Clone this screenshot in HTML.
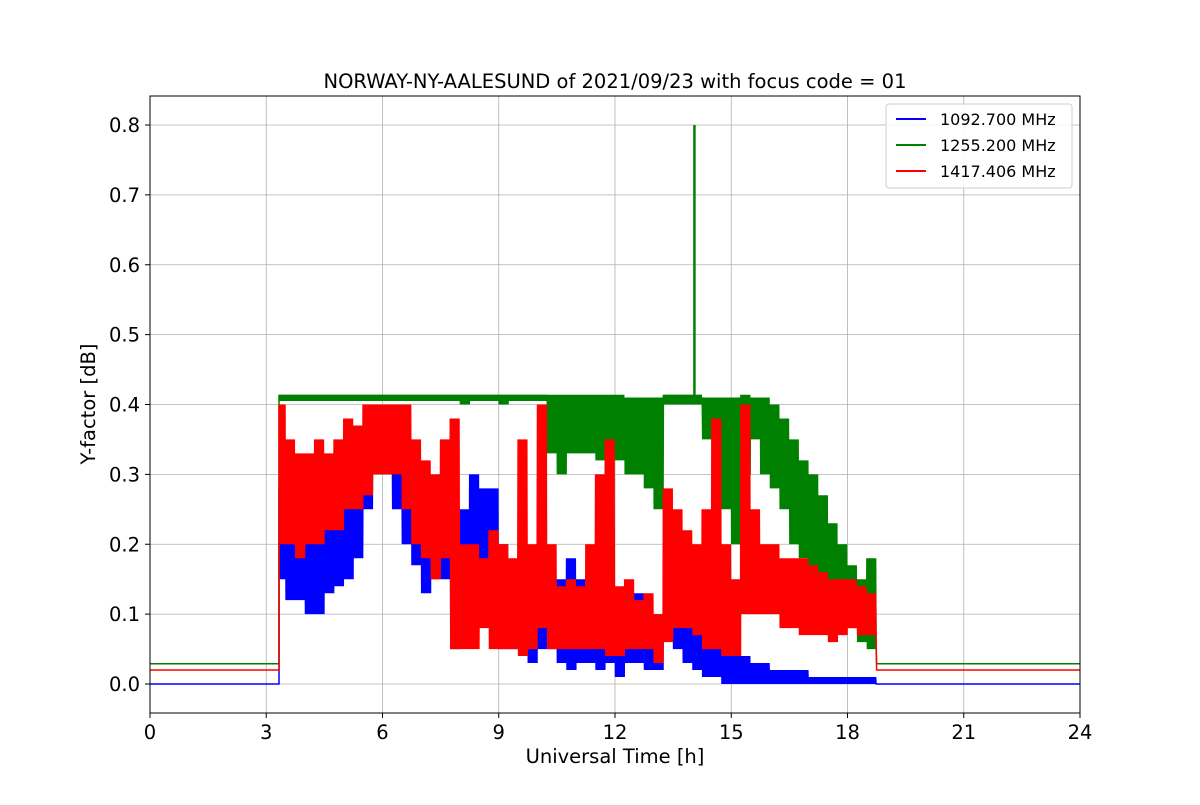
<!DOCTYPE html>
<html><head><meta charset="utf-8"><style>
body{margin:0;background:#fff;}
svg text{font-family:"DejaVu Sans","Liberation Sans",sans-serif;}
</style></head><body>
<svg id="chart" width="1200" height="800" xmlns="http://www.w3.org/2000/svg">
<rect width="1200" height="800" fill="#fff"/>
<g id="grid"></g>
<g id="series"></g>
<rect x="150" y="96" width="930" height="617" fill="none" stroke="#000" stroke-width="1"/>
<g id="ticks"></g>
<text x="615" y="88" font-size="19.5" text-anchor="middle">NORWAY-NY-AALESUND of 2021/09/23 with focus code = 01</text>
<text x="615" y="763" font-size="19.5" text-anchor="middle">Universal Time [h]</text>
<text transform="translate(95,404) rotate(-90)" font-size="19.5" text-anchor="middle">Y-factor [dB]</text>
<g>
<rect x="886" y="104" width="186" height="84" rx="3" fill="#fff" fill-opacity="0.85" stroke="#ccc"/>
<line x1="896" y1="119" x2="926" y2="119" stroke="#0000ff" stroke-width="2"/>
<text x="940" y="125" font-size="16">1092.700 MHz</text>
<line x1="896" y1="145" x2="926" y2="145" stroke="#008000" stroke-width="2"/>
<text x="940" y="151" font-size="16">1255.200 MHz</text>
<line x1="896" y1="171" x2="926" y2="171" stroke="#ff0000" stroke-width="2"/>
<text x="940" y="177" font-size="16">1417.406 MHz</text>
</g>
</svg>
<script>
const xTicks=[0,3,6,9,12,15,18,21,24];
const yTicks=[0.0,0.1,0.2,0.3,0.4,0.5,0.6,0.7,0.8];
const binStart=3.25, binWidth=0.25, activeEnd=18.75;
const redLo=[0.2,0.2,0.18,0.2,0.2,0.22,0.22,0.25,0.25,0.27,0.3,0.3,0.3,0.25,0.2,0.18,0.15,0.18,0.05,0.05,0.05,0.08,0.05,0.05,0.05,0.04,0.05,0.08,0.05,0.05,0.05,0.05,0.05,0.05,0.04,0.04,0.05,0.05,0.05,0.03,0.06,0.08,0.08,0.07,0.05,0.05,0.04,0.04,0.1,0.1,0.1,0.1,0.08,0.08,0.07,0.07,0.07,0.06,0.07,0.08,0.07,0.07];
const redHi=[0.4,0.35,0.33,0.33,0.35,0.33,0.35,0.38,0.37,0.4,0.4,0.4,0.4,0.4,0.35,0.32,0.3,0.35,0.38,0.2,0.2,0.18,0.22,0.2,0.18,0.35,0.2,0.4,0.2,0.14,0.15,0.14,0.2,0.3,0.35,0.14,0.15,0.12,0.13,0.1,0.28,0.25,0.22,0.2,0.25,0.38,0.2,0.15,0.4,0.25,0.2,0.2,0.18,0.18,0.18,0.17,0.16,0.15,0.15,0.15,0.14,0.13];
const blueLo=[0.15,0.12,0.12,0.1,0.1,0.13,0.14,0.15,0.18,0.25,0.3,0.3,0.25,0.2,0.17,0.13,0.15,0.15,0.05,0.1,0.1,0.1,0.08,0.05,0.05,0.05,0.03,0.05,0.05,0.03,0.02,0.03,0.03,0.02,0.03,0.01,0.03,0.03,0.02,0.02,0.1,0.05,0.03,0.02,0.01,0.01,0,0,0,0,0,0,0,0,0,0,0,0,0,0,0,0];
const blueHi=[0.28,0.25,0.24,0.22,0.23,0.25,0.27,0.28,0.3,0.33,0.36,0.38,0.35,0.3,0.28,0.26,0.28,0.3,0.25,0.25,0.3,0.28,0.28,0.2,0.17,0.13,0.12,0.2,0.15,0.15,0.18,0.15,0.13,0.12,0.12,0.12,0.12,0.13,0.1,0.09,0.15,0.14,0.12,0.1,0.08,0.07,0.05,0.05,0.04,0.03,0.03,0.02,0.02,0.02,0.02,0.01,0.01,0.01,0.01,0.01,0.01,0.01];
const greenLo=[0.405,0.405,0.405,0.405,0.405,0.405,0.405,0.405,0.405,0.405,0.405,0.405,0.405,0.405,0.405,0.405,0.405,0.405,0.405,0.4,0.405,0.405,0.405,0.4,0.405,0.405,0.405,0.405,0.33,0.3,0.33,0.33,0.33,0.32,0.32,0.32,0.3,0.3,0.28,0.25,0.4,0.4,0.4,0.4,0.35,0.3,0.25,0.2,0.3,0.35,0.3,0.28,0.25,0.2,0.18,0.15,0.12,0.1,0.08,0.08,0.06,0.05];
const greenHi=[0.414,0.414,0.414,0.414,0.414,0.414,0.414,0.414,0.414,0.414,0.414,0.414,0.414,0.414,0.414,0.414,0.414,0.414,0.414,0.414,0.414,0.414,0.414,0.414,0.414,0.414,0.414,0.414,0.414,0.414,0.414,0.414,0.414,0.414,0.414,0.414,0.41,0.41,0.41,0.41,0.414,0.414,0.414,0.414,0.41,0.41,0.41,0.41,0.414,0.41,0.41,0.4,0.38,0.35,0.32,0.3,0.27,0.23,0.2,0.17,0.15,0.18];
const greenSpikeT=[14.05];
const greenSpikeV=[0.8];
const baseBefore=[0.0,0.029,0.02];
const baseAfter=[0.0,0.029,0.02];
const colors=["#0000ff","#008000","#ff0000"];
const names=["series-1092","series-1255","series-1417"];
const X0=150,X1=1080,Y0=684,PXU=698.75;
function xs(t){return X0+(t-0)*(X1-X0)/24;}
function ys(v){return Y0-v*PXU;}
const NS="http://www.w3.org/2000/svg";
const grid=document.getElementById('grid'),ticks=document.getElementById('ticks'),ser=document.getElementById('series');
xTicks.forEach(t=>{
 const l=document.createElementNS(NS,'line');
 
 
 l.setAttribute('x1',xs(t));l.setAttribute('x2',xs(t));l.setAttribute('y1',96);l.setAttribute('y2',713);
 l.setAttribute('stroke','#b0b0b0');l.setAttribute('stroke-width','0.8');grid.appendChild(l);
 const k=document.createElementNS(NS,'line');
 
 
 k.setAttribute('x1',xs(t));k.setAttribute('x2',xs(t));k.setAttribute('y1',713);k.setAttribute('y2',718);
 k.setAttribute('stroke','#000');ticks.appendChild(k);
 const tx=document.createElementNS(NS,'text');
 
 
 tx.setAttribute('x',xs(t));tx.setAttribute('y',739);tx.setAttribute('font-size','19.5');tx.setAttribute('text-anchor','middle');
 tx.textContent=t;ticks.appendChild(tx);
});
yTicks.forEach(v=>{
 const l=document.createElementNS(NS,'line');
 
 
 l.setAttribute('x1',150);l.setAttribute('x2',1080);l.setAttribute('y1',ys(v));l.setAttribute('y2',ys(v));
 l.setAttribute('stroke','#b0b0b0');l.setAttribute('stroke-width','0.8');grid.appendChild(l);
 const k=document.createElementNS(NS,'line');
 
 
 k.setAttribute('x1',145);k.setAttribute('x2',150);k.setAttribute('y1',ys(v));k.setAttribute('y2',ys(v));
 k.setAttribute('stroke','#000');ticks.appendChild(k);
 const tx=document.createElementNS(NS,'text');
 
 
 tx.setAttribute('x',140);tx.setAttribute('y',ys(v)+7);tx.setAttribute('font-size','19.5');tx.setAttribute('text-anchor','end');
 tx.textContent=v.toFixed(1);ticks.appendChild(tx);
});
const los=[blueLo,greenLo,redLo],his=[blueHi,greenHi,redHi];
const tStart=3.33;
for(let s=0;s<3;s++){
 let pts=[[xs(0),ys(baseBefore[s])],[xs(tStart),ys(baseBefore[s])]];
 const lo=los[s],hi=his[s];
 const sub=20;
 for(let i=0;i<lo.length;i++){
  const b0=Math.max(binStart+i*binWidth,tStart);
  const b1=Math.min(binStart+(i+1)*binWidth,activeEnd);
  for(let k=0;k<sub;k++){
   const t=b0+(b1-b0)*k/sub;
   const v=(k%2===0)?hi[i]:lo[i];
   pts.push([xs(t),ys(v)]);
  }
 }
 pts.push([xs(activeEnd),ys(baseAfter[s])]);
 pts.push([xs(24),ys(baseAfter[s])]);
 const p=document.createElementNS(NS,'polyline');
 
 
 p.setAttribute('points',pts.map(q=>q[0].toFixed(1)+','+q[1].toFixed(1)).join(' '));
 p.setAttribute('fill','none');p.setAttribute('stroke',colors[s]);p.setAttribute('stroke-width','1.5');
 ser.appendChild(p);
 if(s===1){
  greenSpikeT.forEach((t,j)=>{
   const sp=document.createElementNS(NS,'line');
   
   
   sp.setAttribute('x1',xs(t));sp.setAttribute('x2',xs(t));
   sp.setAttribute('y1',ys(0.4));sp.setAttribute('y2',ys(greenSpikeV[j]));
   sp.setAttribute('stroke','#008000');sp.setAttribute('stroke-width','2.5');
   ser.appendChild(sp);
  });
 }
}
</script>
</body></html>
